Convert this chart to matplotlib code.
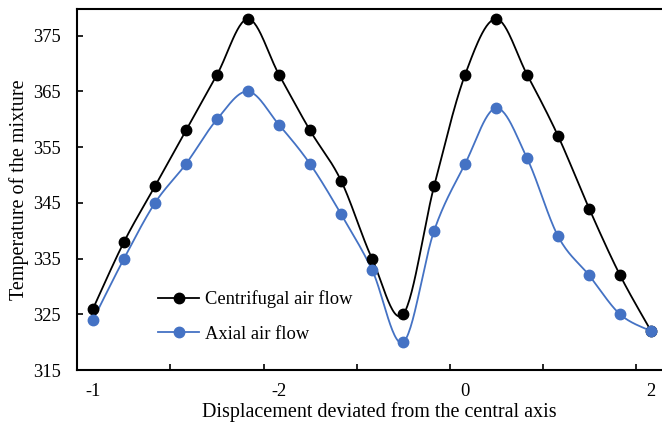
import numpy as np
import matplotlib.pyplot as plt

plt.rcParams['font.family'] = ['Liberation Serif', 'DejaVu Serif']

# Point index along the axis and the printed category labels
idx = np.arange(19)
tick_pos = [0, 6, 12, 18]
tick_labels = ['-1', '-2', '0', '2']

centrifugal = [326, 338, 348, 358, 368, 378, 368, 358, 349, 335, 325,
               348, 368, 378, 368, 357, 344, 332, 322]
axial = [324, 335, 345, 352, 360, 365, 359, 352, 343, 333, 320,
         340, 352, 362, 353, 339, 332, 325, 322]


def smooth(x, y, n=30):
    # Catmull-Rom style smoothing like a spreadsheet "smoothed line"
    x = np.asarray(x, float)
    y = np.asarray(y, float)
    px = np.concatenate([[x[0]], x, [x[-1]]])
    py = np.concatenate([[y[0]], y, [y[-1]]])
    xs, ys = [], []
    t = np.linspace(0, 1, n)
    for i in range(1, len(px) - 2):
        p0 = np.array([px[i], py[i]])
        p3 = np.array([px[i + 1], py[i + 1]])
        p1 = p0 + (np.array([px[i + 1], py[i + 1]]) - np.array([px[i - 1], py[i - 1]])) / 6
        p2 = p3 - (np.array([px[i + 2], py[i + 2]]) - np.array([px[i], py[i]])) / 6
        b = ((1 - t) ** 3)[:, None] * p0 + (3 * (1 - t) ** 2 * t)[:, None] * p1 \
            + (3 * (1 - t) * t ** 2)[:, None] * p2 + (t ** 3)[:, None] * p3
        xs.extend(b[:, 0])
        ys.extend(b[:, 1])
    return xs, ys


fig = plt.figure(figsize=(6.62, 4.25), dpi=100)
ax = fig.add_axes([0.117, 0.129, 0.883, 0.85])

blue = '#4472C4'
sx, sy = smooth(idx, centrifugal)
ax.plot(sx, sy, color='black', lw=1.3)
sx, sy = smooth(idx, axial)
ax.plot(sx, sy, color=blue, lw=1.3)
ax.plot(idx, centrifugal, 'o', color='black', ms=7.5)
ax.plot(idx, axial, 'o', color=blue, ms=7.5)

# legend entries
ax.plot([], [], '-o', color='black', lw=1.3, ms=7.5, label='Centrifugal air flow')
ax.plot([], [], '-o', color=blue, lw=1.3, ms=7.5, label='Axial air flow')
ax.legend(loc='lower left', bbox_to_anchor=(0.11, 0.03), frameon=False,
          fontsize=13.3, handlelength=2.2, handletextpad=0.3, labelspacing=0.95)

ax.set_xlim(-0.5, 18.35)
ax.set_ylim(315, 379.8)
ax.set_yticks(range(315, 376, 10))
ax.set_xticks([2.5, 5.5, 8.5, 11.5, 14.5, 17.5])
ax.set_xticklabels([])
ax.set_xticks(tick_pos, minor=True)
ax.set_xticklabels(tick_labels, minor=True)
ax.tick_params(axis='x', which='minor', length=0, pad=9, labelsize=13.3)
ax.tick_params(axis='x', which='major', direction='in', length=4, width=1.2)
ax.tick_params(axis='y', direction='in', length=4, width=1.2, labelsize=13.3, pad=12)

for s in ['left', 'bottom', 'top']:
    ax.spines[s].set_linewidth(1.5)
ax.spines['right'].set_visible(False)

ax.set_xlabel('Displacement deviated from the central axis', fontsize=14.5)
ax.xaxis.set_label_coords(0.517, -0.088)
ax.set_ylabel('Temperature of the mixture', fontsize=14.5, labelpad=3)

fig.savefig('out.png', dpi=100)
